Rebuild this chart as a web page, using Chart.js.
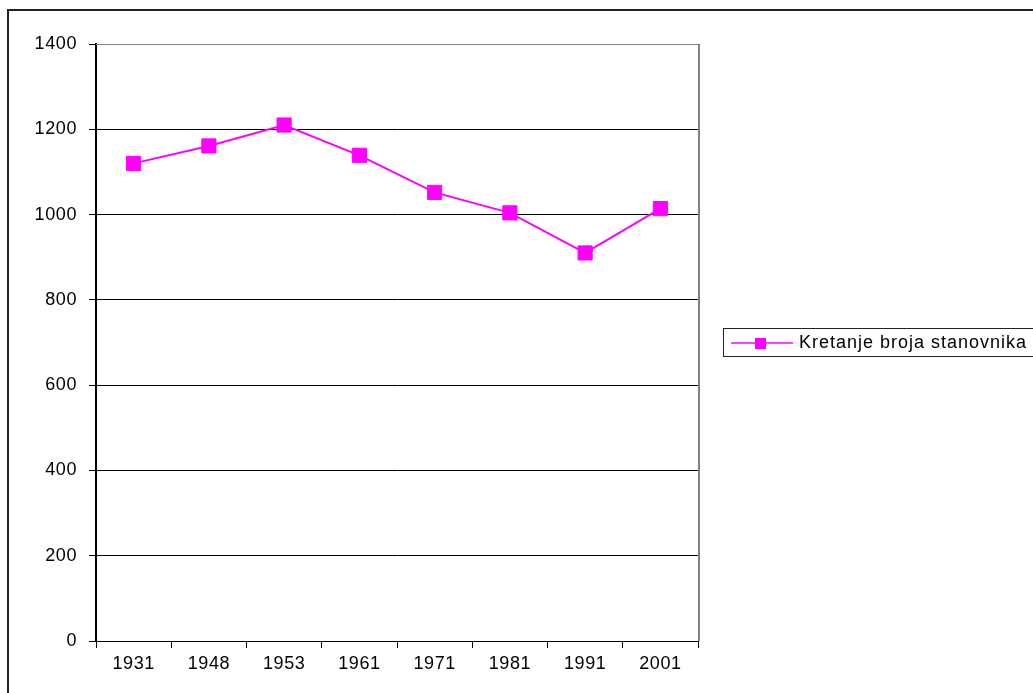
<!DOCTYPE html>
<html>
<head>
<meta charset="utf-8">
<script src="https://cdn.jsdelivr.net/npm/chart.js@4.4.0/dist/chart.umd.min.js"></script>
<style>
  body { margin: 0; background: #ffffff; }
  #wrap { width: 1033px; height: 693px; position: relative; }
</style>
</head>
<body>
<div id="wrap"><canvas id="popChart" width="1033" height="693"></canvas></div>
<script>
// Census years and population values
const years = ["1931", "1948", "1953", "1961", "1971", "1981", "1991", "2001"];
const population = [1120, 1161, 1210, 1139, 1052, 1004, 910, 1014];
const seriesLabel = "Kretanje broja stanovnika";
const yTicks = [0, 200, 400, 600, 800, 1000, 1200, 1400];

const magenta = "#ff00ff";
const fontFamily = "'Liberation Sans', Arial, sans-serif";

// slightly wider text, like the original export
const spacingPlugin = {
  id: "spacing",
  beforeDraw(chart) {
    if ("letterSpacing" in chart.ctx) chart.ctx.letterSpacing = "0.6px";
  }
};

// outer frame, plot top/right border and the boxed legend
const framePlugin = {
  id: "frame",
  afterDraw(chart) {
    const ctx = chart.ctx;
    const a = chart.chartArea;
    ctx.save();
    // gray plot border on top and right
    ctx.strokeStyle = "#808080";
    ctx.lineWidth = 1;
    ctx.beginPath();
    ctx.moveTo(a.left, a.top + 0.5);
    ctx.lineTo(a.right, a.top + 0.5);
    ctx.stroke();
    ctx.lineWidth = 2;
    ctx.beginPath();
    ctx.moveTo(a.right + 1, a.top);
    ctx.lineTo(a.right + 1, a.bottom);
    ctx.stroke();

    // outer chart border
    ctx.strokeStyle = "#222222";
    ctx.lineWidth = 2;
    ctx.strokeRect(8, 10, 1200, 900);

    // legend box
    ctx.strokeStyle = "#222222";
    ctx.lineWidth = 1;
    ctx.strokeRect(723.5, 328.5, 400, 28);
    ctx.strokeStyle = magenta;
    ctx.lineWidth = 1.5;
    ctx.beginPath();
    ctx.moveTo(731, 343);
    ctx.lineTo(793, 343);
    ctx.stroke();
    ctx.fillStyle = magenta;
    ctx.fillRect(755, 338, 11, 11);
    ctx.fillStyle = "#000000";
    ctx.font = "18px " + fontFamily;
    ctx.textBaseline = "alphabetic";
    ctx.textAlign = "left";
    if ("letterSpacing" in ctx) ctx.letterSpacing = "1px";
    ctx.fillText(chart.data.datasets[0].label, 799, 348);
    ctx.restore();
  }
};

const ctx = document.getElementById("popChart").getContext("2d");
const popChart = new Chart(ctx, {
  type: "line",
  data: {
    labels: years,
    datasets: [
      {
        label: seriesLabel,
        data: population,
        borderColor: magenta,
        backgroundColor: magenta,
        borderWidth: 2,
        pointStyle: "rect",
        pointRadius: 10,
        pointBorderWidth: 1,
        pointBorderColor: magenta,
        pointBackgroundColor: magenta,
        tension: 0,
      },
    ],
  },
  options: {
    responsive: false,
    animation: false,
    layout: {
      padding: { left: 0, top: 44, right: 335, bottom: 0 },
    },
    plugins: {
      legend: { display: false },
      tooltip: { enabled: false },
    },
    scales: {
      x: {
        offset: true,
        grid: {
          offset: true,
          drawOnChartArea: false,
          drawTicks: true,
          tickLength: 7,
          color: "#000000",
        },
        border: { color: "#000000", width: 1 },
        ticks: {
          color: "#000000",
          font: { family: fontFamily, size: 18 },
          padding: 5,
          maxRotation: 0,
        },
        afterFit(scale) {
          scale.height = 52;
        },
      },
      y: {
        min: 0,
        max: 1400,
        afterBuildTicks(scale) {
          scale.ticks = yTicks.map((v) => ({ value: v }));
        },
        grid: {
          color: (c) => (c.tick && c.tick.value === 1400 ? "rgba(0,0,0,0)" : "#000000"),
          tickColor: "#000000",
          lineWidth: 1,
          drawTicks: true,
          tickLength: 7,
        },
        border: { color: "#000000", width: 2 },
        ticks: {
          color: "#000000",
          font: { family: fontFamily, size: 18 },
          padding: 12,
          callback: (v) => String(v),
        },
        afterFit(scale) {
          scale.width = 96;
        },
      },
    },
  },
  plugins: [spacingPlugin, framePlugin],
});
</script>
</body>
</html>
